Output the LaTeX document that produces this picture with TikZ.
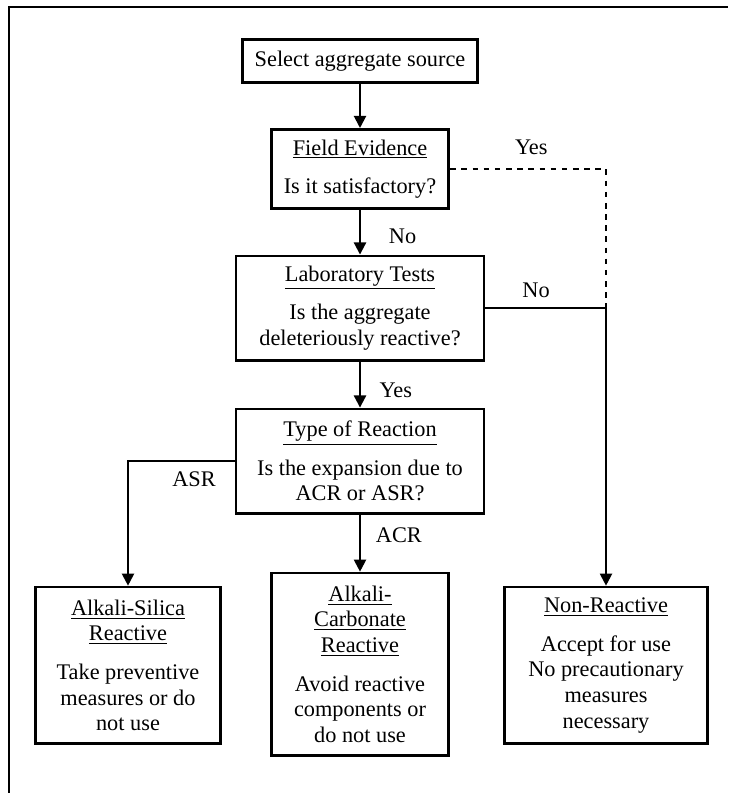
\documentclass[tikz,border=0pt]{standalone}
\usepackage{fontspec}
\setmainfont{Liberation Serif}
\usetikzlibrary{arrows.meta,positioning,calc}
\tikzset{
  blk/.style={draw,rectangle,line width=1.5pt,align=center,inner sep=3pt,font=\fontsize{12}{13.8}\selectfont},
  srcblk/.style={blk,minimum width=4.44cm,minimum height=0.82cm},
  fldblk/.style={blk,minimum width=3.36cm,minimum height=1.5cm},
  qblk/.style={blk,minimum width=4.69cm,minimum height=1.97cm},
  endblk/.style={blk,minimum width=3.5cm,minimum height=2.96cm},
  arr/.style={-{Triangle[length=6.5pt,width=6.5pt]},line width=1.1pt},
  yesline/.style={dashed,line width=1.1pt},
  lbl/.style={font=\fontsize{12}{13.8}\selectfont,inner sep=1pt}
}

\begin{document}
\begin{tikzpicture}[x=0.0189cm,y=-0.0189cm]
  \useasboundingbox (0,0) rectangle (728,793);
  % page frame
  \draw[line width=1.1pt] (9,793) -- (9,7) -- (728,7);

  \node[srcblk] (src) at (360,61) {Select aggregate source};
  \node[fldblk, below=0.83cm of src] (fld) {\underline{Field Evidence}\\[7pt]Is it satisfactory?};
  \node[qblk, below=0.84cm of fld] (lab) {\underline{Laboratory Tests}\\[7pt]Is the aggregate\\deleteriously reactive?};
  \node[qblk, below=0.87cm of lab] (typ) {\underline{Type of Reaction}\\[7pt]Is the expansion due to\\ACR or ASR?};
  \node[blk, minimum width=3.35cm, minimum height=3.45cm, below=1.08cm of typ] (acr)
    {\underline{Alkali-}\\\underline{Carbonate}\\\underline{Reactive}\\[7pt]Avoid reactive\\components or\\do not use};
  \node[endblk, anchor=north] (asr) at ($(acr.north)+(-232,14)$)
    {\underline{Alkali-Silica}\\\underline{Reactive}\\[7pt]Take preventive\\measures or do\\not use};
  \node[endblk, minimum width=3.84cm, anchor=north] (nr) at ($(acr.north)+(246,14)$)
    {\underline{Non-Reactive}\\[7pt]Accept for use\\No precautionary\\measures\\necessary};
  \coordinate (nojoin) at (lab.east -| nr.north);

  \draw[arr] (src) -- (fld);
  \draw[arr] (fld) -- node[lbl, pos=0.6, right=14pt] {No} (lab);
  \draw[arr] (lab) -- node[lbl, pos=0.62, right=9pt] {Yes} (typ);
  \draw[arr] (typ) -- node[lbl, pos=0.37, right=7pt] {ACR} (acr);
  \draw[arr] (typ.west) -| node[lbl, pos=0.19, below=4pt] {ASR} (asr.north);
  \draw[yesline] (fld.east) -| node[lbl, pos=0.26, above=6pt] {Yes} (nojoin);
  \draw[arr] (lab.east) -| node[lbl, pos=0.21, above=4pt] {No} (nr.north);
\end{tikzpicture}
\end{document}
